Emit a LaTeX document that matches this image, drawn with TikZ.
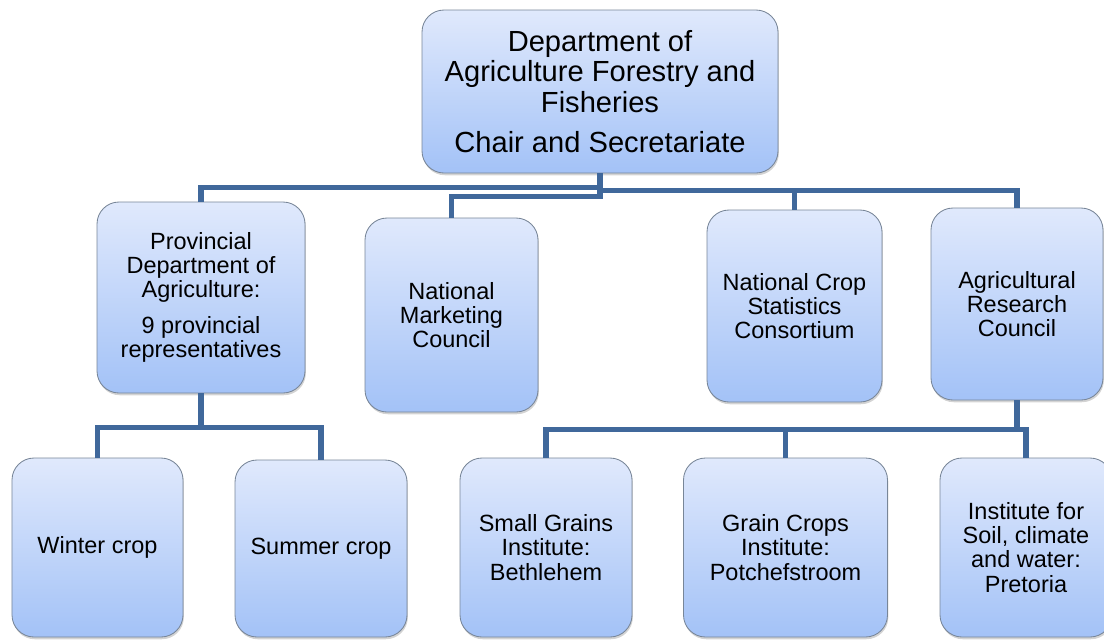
\documentclass[tikz,border=0pt]{standalone}
\usepackage{fontspec}
\setmainfont{Liberation Sans}
\usetikzlibrary{shadows}
\newcommand{\ChartPx}{0.025}
\definecolor{unittop}{RGB}{224,233,252}
\definecolor{unitbottom}{RGB}{163,194,247}
\definecolor{unitedge}{RGB}{120,134,152}
\definecolor{linkblue}{RGB}{64,104,155}

\begin{document}
\begin{tikzpicture}[x=\ChartPx cm, y=-\ChartPx cm,
	unit/.style={draw=unitedge, line width=0.6pt, rounded corners=\ChartPx*22 cm,
		top color=unittop, bottom color=unitbottom, align=center, inner sep=0pt,
		drop shadow={opacity=0.35, shadow xshift=0.6pt, shadow yshift=-1.6pt},
		font=\fontsize{16.7}{17.2}\selectfont},
	link/.style={draw=linkblue, line width=3.6pt}]
	\useasboundingbox (0,0) rectangle (1104,639);
	% top office
	\node[unit, minimum width=\ChartPx*356 cm, minimum height=\ChartPx*163 cm,
		font=\fontsize{20.7}{21.6}\selectfont] (dept) at (600,91.5)
		{Department of\\Agriculture Forestry and\\Fisheries\\[7pt]Chair and Secretariate};
	% second row
	\node[unit, minimum width=\ChartPx*208 cm, minimum height=\ChartPx*191 cm] (prov) at (201,297.5)
		{Provincial\\Department of\\Agriculture:\\[8.5pt]9 provincial\\representatives};
	\node[unit, minimum width=\ChartPx*173 cm, minimum height=\ChartPx*194 cm] (nmc) at (451.5,315)
		{National\\Marketing\\Council};
	\node[unit, minimum width=\ChartPx*175 cm, minimum height=\ChartPx*192 cm] (ncs) at (794.5,306)
		{National Crop\\Statistics\\Consortium};
	\node[unit, minimum width=\ChartPx*172 cm, minimum height=\ChartPx*192 cm] (arc) at (1017,304)
		{Agricultural\\Research\\Council};
	% third row
	\node[unit, minimum width=\ChartPx*171 cm, minimum height=\ChartPx*179 cm] (winter) at (97.5,547.5)
		{Winter crop};
	\node[unit, minimum width=\ChartPx*172 cm, minimum height=\ChartPx*177 cm] (summer) at (321,548.5)
		{Summer crop};
	\node[unit, minimum width=\ChartPx*172 cm, minimum height=\ChartPx*179 cm] (small) at (546,547.5)
		{Small Grains\\Institute:\\Bethlehem};
	\node[unit, minimum width=\ChartPx*204 cm, minimum height=\ChartPx*179 cm] (grain) at (785.5,547.5)
		{Grain Crops\\Institute:\\Potchefstroom};
	\node[unit, minimum width=\ChartPx*172 cm, minimum height=\ChartPx*179 cm] (soil) at (1026,547.5)
		{Institute for\\Soil, climate\\and water:\\Pretoria};
	% elbow connectors
	\draw[link] (dept.south) -- ++(0,14) -| (prov.north);
	\draw[link] (dept.south) -- ++(0,17) -| (ncs.north);
	\draw[link] (dept.south) -- ++(0,17) -| (arc.north);
	\draw[link] (dept.south) -- ++(0,23) -| (nmc.north);
	\draw[link] (prov.south) -- ++(0,34) -| (winter.north);
	\draw[link] (prov.south) -- ++(0,34) -| (summer.north);
	\draw[link] (arc.south) -- ++(0,29) -| (small.north);
	\draw[link] (arc.south) -- ++(0,29) -| (grain.north);
	\draw[link] (arc.south) -- ++(0,29) -| (soil.north);
\end{tikzpicture}
\end{document}
